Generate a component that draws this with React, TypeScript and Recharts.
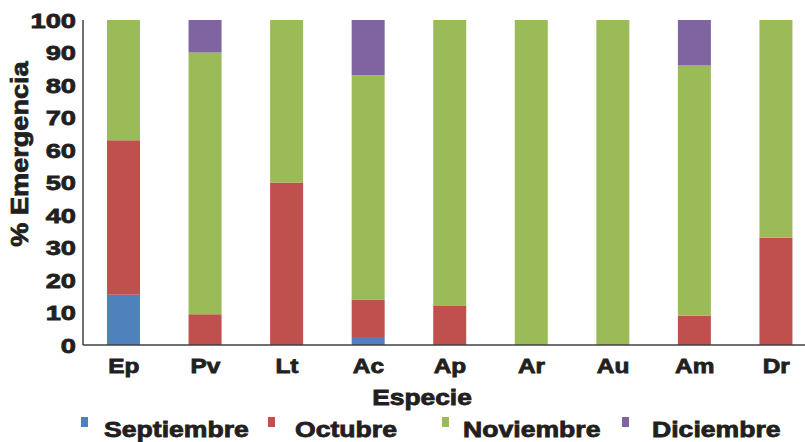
import React from "react";
import { BarChart, Bar, XAxis, YAxis, Legend } from "recharts";

const species = ["Ep", "Pv", "Lt", "Ac", "Ap", "Ar", "Au", "Am", "Dr"];
const septiembre = [15.5, 0, 0, 2.5, 0, 0, 0, 0, 0];
const octubre = [47.5, 9.5, 50, 11.5, 12, 0, 0, 9, 33];
const noviembre = [37, 80.5, 50, 69, 88, 100, 100, 77, 67];
const diciembre = [0, 10, 0, 17, 0, 0, 0, 14, 0];
const yTicks = [0, 10, 20, 30, 40, 50, 60, 70, 80, 90, 100];

const seriesNames = ["Septiembre", "Octubre", "Noviembre", "Diciembre"];
const seriesColors = ["#4f81bd", "#c0504d", "#9bbb59", "#8064a2"];

const data = species.map((s, i) => ({
  name: s,
  Septiembre: septiembre[i],
  Octubre: octubre[i],
  Noviembre: noviembre[i],
  Diciembre: diciembre[i],
}));

const FONT = "'Liberation Sans', Arial, sans-serif";
const INK = "#231f20";
const STROKE_W = 0.8;

// layout constants for legend items (x of square, x of text)
const legendSquareX = [81, 268, 442, 622];
const legendTextX = [104, 295, 463, 652];

const YTick = (props: any) => {
  const { x, y, payload } = props;
  return (
    <text
      transform={`translate(${x},${y}) scale(1.3,1)`}
      x={0}
      y={0}
      dy="0.36em"
      textAnchor="end"
      fontFamily={FONT}
      fontWeight="bold"
      fontSize={21}
      fill={INK}
      stroke={INK}
      strokeWidth={STROKE_W}
    >
      {payload.value}
    </text>
  );
};

const XTick = (props: any) => {
  const { x, y, payload } = props;
  return (
    <text
      transform={`translate(${x},${y}) scale(1.22,1)`}
      x={0}
      y={28}
      textAnchor="middle"
      fontFamily={FONT}
      fontWeight="bold"
      fontSize={20}
      fill={INK}
      stroke={INK}
      strokeWidth={STROKE_W}
    >
      {payload.value}
    </text>
  );
};

const LegendContent = (props: any) => {
  const payload = props.payload || [];
  const ordered = seriesNames
    .map((n) => payload.find((p: any) => p.value === n || p.dataKey === n))
    .filter(Boolean);
  return (
    <svg width={805} height={30} style={{ display: "block" }}>
      {ordered.map((p: any, i: number) => (
        <g key={p.value}>
          <rect x={legendSquareX[i]} y={5} width={7} height={10} fill={p.color} />
          <text
            transform={`translate(${legendTextX[i]},24.5) scale(1.21,1)`}
            x={0}
            y={0}
            fontFamily={FONT}
            fontWeight="bold"
            fontSize={22}
            fill={INK}
            stroke={INK}
            strokeWidth={STROKE_W}
          >
            {p.value}
          </text>
        </g>
      ))}
    </svg>
  );
};

export default function App() {
  return (
    <div
      style={{
        position: "absolute",
        left: 0,
        top: 0,
        width: 805,
        height: 442,
        overflow: "hidden",
        background: "#fff",
      }}
    >
      <BarChart
        width={820}
        height={442}
        data={data}
        margin={{ top: 20, right: 3, left: 0, bottom: 0 }}
        barSize={33}
      >
        <XAxis
          dataKey="name"
          height={67}
          tickLine={false}
          tickSize={0}
          tickMargin={0}
          axisLine={{ stroke: "#404040", strokeWidth: 1.5 }}
          tick={<XTick />}
          interval={0}
          label={{
            content: () => (
              <text
                transform="translate(422,405) scale(1.2,1)"
                x={0}
                y={0}
                textAnchor="middle"
                fontFamily={FONT}
                fontWeight="bold"
                fontSize={22}
                fill={INK}
                stroke={INK}
                strokeWidth={STROKE_W}
              >
                Especie
              </text>
            ),
          }}
        />
        <YAxis
          width={83}
          domain={[0, 100]}
          ticks={yTicks}
          interval={0}
          tickLine={false}
          tickSize={0}
          tickMargin={7}
          axisLine={{ stroke: "#404040", strokeWidth: 1.5 }}
          tick={<YTick />}
          label={{
            content: () => (
              <text
                transform="translate(28,154) rotate(-90) scale(1.13,1)"
                x={0}
                y={0}
                textAnchor="middle"
                fontFamily={FONT}
                fontWeight="bold"
                fontSize={24}
                fill={INK}
                stroke={INK}
                strokeWidth={STROKE_W}
              >
                % Emergencia
              </text>
            ),
          }}
        />
        <Legend verticalAlign="bottom" height={30} content={<LegendContent />} />
        {seriesNames.map((n, i) => (
          <Bar
            key={n}
            dataKey={n}
            stackId="a"
            fill={seriesColors[i]}
            isAnimationActive={false}
          />
        ))}
      </BarChart>
    </div>
  );
}
